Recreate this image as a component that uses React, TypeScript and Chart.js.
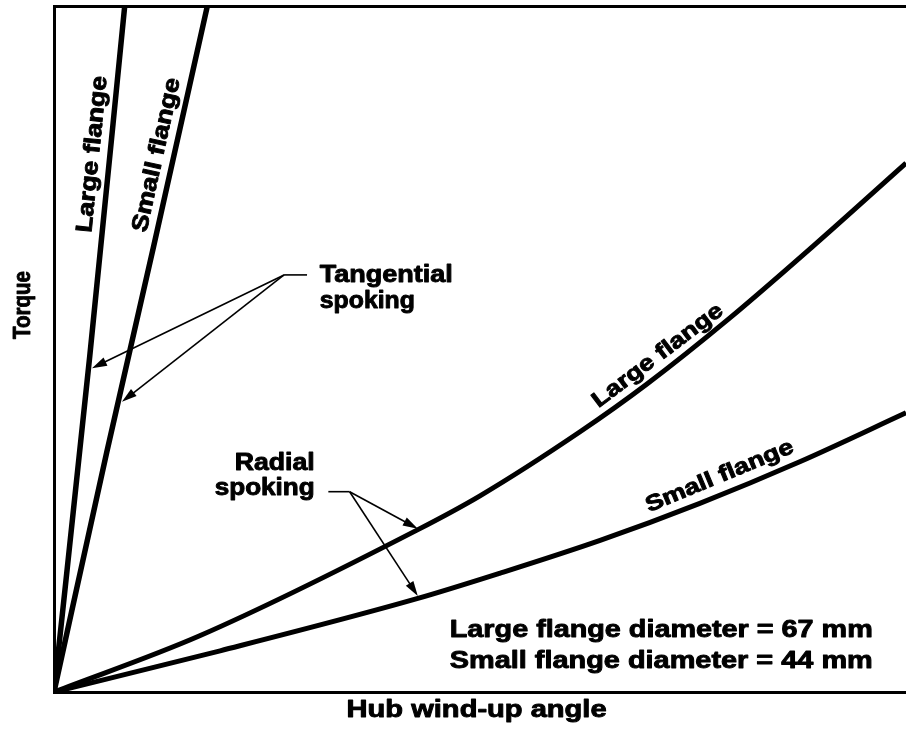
import React, { useEffect, useRef } from "react";
import { Chart, registerables } from "chart.js";

Chart.register(...registerables);

// ---- Data (x: hub wind-up angle, y: torque; both in arbitrary 0-100 units) ----
const tangentialLargeX = [0, 4.2, 8.3];
const tangentialLargeY = [0, 49, 100];
const tangentialSmallX = [0, 6.2, 11.7, 18.0];
const tangentialSmallY = [0, 35, 65, 100];
const radialLargeX = [0, 17.1, 42.6, 50.0, 61.7, 69.6, 79.3, 89.1, 100];
const radialLargeY = [0, 8.2, 23.6, 28.6, 37.9, 44.9, 54.5, 65.0, 77.1];
const radialSmallX = [0, 19.5, 42.6, 52.3, 64.1, 75.8, 87.6, 100];
const radialSmallY = [0, 6.0, 13.6, 17.3, 22.1, 27.5, 33.6, 40.7];

const xAxisTitle = "Hub wind-up angle";
const yAxisTitle = "Torque";

// ---- Annotations (positions in data units) ----
type Label = { text: string; x: number; y: number; rot: number; size: number; width: number; align: CanvasTextAlign };
const labels: Label[] = [
  { text: yAxisTitle, x: -2.8, y: 56.4, rot: -90, size: 23, width: 68, align: "center" },
  { text: xAxisTitle, x: 49.6, y: -3.64, rot: 0, size: 23.5, width: 260, align: "center" },
  { text: "Tangential", x: 31.2, y: 59.8, rot: 0, size: 23, width: 133, align: "left" },
  { text: "spoking", x: 31.2, y: 56.0, rot: 0, size: 23, width: 95, align: "left" },
  { text: "Radial", x: 30.6, y: 32.4, rot: 0, size: 23, width: 80, align: "right" },
  { text: "spoking", x: 30.6, y: 28.7, rot: 0, size: 23, width: 100, align: "right" },
  { text: "Large flange diameter = 67 mm", x: 96.1, y: 8.0, rot: 0, size: 24, width: 423, align: "right" },
  { text: "Small flange diameter = 44 mm", x: 96.1, y: 3.5, rot: 0, size: 24, width: 423, align: "right" },
  { text: "Large flange", x: 5.28, y: 78.3, rot: -84.3, size: 23, width: 157, align: "center" },
  { text: "Small flange", x: 12.8, y: 78.1, rot: -77.6, size: 23, width: 157, align: "center" },
  { text: "Large flange", x: 71.3, y: 48.3, rot: -37, size: 22, width: 158, align: "center" },
  { text: "Small flange", x: 78.4, y: 30.6, rot: -22.5, size: 22, width: 158, align: "center" },
];

type Seg = { x1: number; y1: number; x2: number; y2: number; head: boolean };
const pointers: Seg[] = [
  { x1: 29.7, y1: 60.8, x2: 27.0, y2: 60.8, head: false },
  { x1: 27.0, y1: 60.8, x2: 4.46, y2: 47.2, head: true },
  { x1: 27.0, y1: 60.8, x2: 7.98, y2: 42.3, head: true },
  { x1: 32.2, y1: 29.2, x2: 34.7, y2: 29.2, head: false },
  { x1: 34.7, y1: 29.2, x2: 42.7, y2: 23.8, head: true },
  { x1: 34.7, y1: 29.2, x2: 42.7, y2: 14.0, head: true },
];

const toPoints = (xs: number[], ys: number[]) => xs.map((x, i) => ({ x, y: ys[i] }));

const FONT = '"Liberation Sans", Arial, Helvetica, sans-serif';

const annotationPlugin = {
  id: "annotations",
  afterDraw(chart: any) {
    const ctx: CanvasRenderingContext2D = chart.ctx;
    const xs = chart.scales.x;
    const ys = chart.scales.y;
    // pointers
    ctx.save();
    ctx.strokeStyle = "#000";
    ctx.fillStyle = "#000";
    ctx.lineWidth = 1.6;
    for (const s of pointers) {
      const ax = xs.getPixelForValue(s.x1);
      const ay = ys.getPixelForValue(s.y1);
      const bx = xs.getPixelForValue(s.x2);
      const by = ys.getPixelForValue(s.y2);
      const ang = Math.atan2(by - ay, bx - ax);
      const headLen = 15;
      const headHalf = 4.5;
      const ex = s.head ? bx - Math.cos(ang) * (headLen - 2) : bx;
      const ey = s.head ? by - Math.sin(ang) * (headLen - 2) : by;
      ctx.beginPath();
      ctx.moveTo(ax, ay);
      ctx.lineTo(ex, ey);
      ctx.stroke();
      if (s.head) {
        const bxh = bx - Math.cos(ang) * headLen;
        const byh = by - Math.sin(ang) * headLen;
        ctx.beginPath();
        ctx.moveTo(bx, by);
        ctx.lineTo(bxh - Math.sin(ang) * headHalf, byh + Math.cos(ang) * headHalf);
        ctx.lineTo(bxh + Math.sin(ang) * headHalf, byh - Math.cos(ang) * headHalf);
        ctx.closePath();
        ctx.fill();
      }
    }
    ctx.restore();
    // labels
    for (const l of labels) {
      ctx.save();
      ctx.translate(xs.getPixelForValue(l.x), ys.getPixelForValue(l.y));
      ctx.rotate((l.rot * Math.PI) / 180);
      ctx.font = `bold ${l.size}px ${FONT}`;
      const w = ctx.measureText(l.text).width;
      ctx.scale(l.width / w, 1);
      ctx.textAlign = l.align;
      ctx.textBaseline = "alphabetic";
      ctx.fillStyle = "#000";
      ctx.strokeStyle = "#000";
      ctx.lineWidth = 0.9;
      ctx.lineJoin = "round";
      ctx.fillText(l.text, 0, 0);
      ctx.strokeText(l.text, 0, 0);
      ctx.restore();
    }
  },
};

const hiddenAxis = (position: string) => ({
  type: "linear" as const,
  position,
  min: 0,
  max: 100,
  grid: { display: false, drawTicks: false },
  ticks: { display: false },
  border: { display: true, color: "#000", width: 3 },
});

export default function App() {
  const ref = useRef<HTMLCanvasElement | null>(null);
  useEffect(() => {
    document.body.style.margin = "0";
    if (!ref.current) return;
    const lineDs = (label: string, xs: number[], ys: number[], width: number) => ({
      label,
      data: toPoints(xs, ys),
      borderColor: "#000",
      backgroundColor: "#000",
      borderWidth: width,
      pointRadius: 0,
      fill: false,
      cubicInterpolationMode: "monotone" as const,
      clip: 0,
      xAxisID: "x",
      yAxisID: "y",
    });
    const chart = new Chart(ref.current, {
      type: "line",
      data: {
        datasets: [
          lineDs("Tangential, large flange", tangentialLargeX, tangentialLargeY, 5.5),
          lineDs("Tangential, small flange", tangentialSmallX, tangentialSmallY, 5.5),
          lineDs("Radial, large flange", radialLargeX, radialLargeY, 5),
          lineDs("Radial, small flange", radialSmallX, radialSmallY, 5),
        ],
      },
      options: {
        responsive: false,
        animation: false,
        events: [],
        layout: { padding: { left: 54, top: 6, right: 0, bottom: 49 } },
        plugins: { legend: { display: false }, tooltip: { enabled: false } },
        scales: {
          x: hiddenAxis("bottom"),
          xTop: hiddenAxis("top"),
          y: hiddenAxis("left"),
        } as any,
      },
      plugins: [annotationPlugin],
    });
    return () => chart.destroy();
  }, []);
  return (
    <div style={{ width: 906, height: 741, background: "#fff" }}>
      <canvas ref={ref} width={906} height={741} style={{ display: "block" }} />
    </div>
  );
}
